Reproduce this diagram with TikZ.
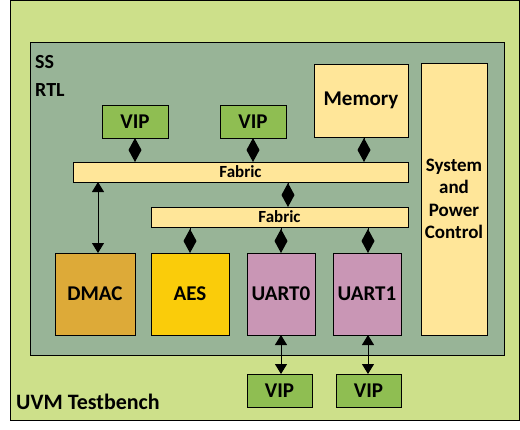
\documentclass[tikz,border=0pt]{standalone}
\usepackage{fontspec}
\setmainfont{Carlito}
\usetikzlibrary{arrows.meta}
\definecolor{outerc}{RGB}{205,224,138}
\definecolor{innerc}{RGB}{152,180,151}
\definecolor{vipc}{RGB}{143,190,82}
\definecolor{yel}{RGB}{255,230,153}
\definecolor{dmacc}{RGB}{221,170,56}
\definecolor{aesc}{RGB}{250,204,10}
\definecolor{uartc}{RGB}{201,150,181}
\tikzset{
  box/.style={draw=black, line width=1pt, inner sep=0pt, outer sep=0pt, anchor=north west, font=\bfseries\fontsize{21}{24}\selectfont, align=center},
  vipbox/.style={box, fill=vipc, minimum width=66pt, minimum height=33pt},
  fabbox/.style={box, fill=yel, minimum height=20pt, font=\bfseries\fontsize{17}{20}\selectfont},
  blockbox/.style={box, minimum width=80pt, minimum height=82pt},
  dconn/.style={line width=1pt, -{Diamond[length=24pt,width=13pt]}},
  tconn/.style={line width=1pt, {Triangle[length=10pt,width=12pt]}-{Triangle[length=10pt,width=12pt]}},
  lbl/.style={anchor=west, inner sep=0pt, font=\bfseries\fontsize{20}{24}\selectfont}
}
\begin{document}
\begin{tikzpicture}[x=1pt,y=-1pt]
\useasboundingbox (0,0) rectangle (520,429);
\node[box, fill=outerc, minimum width=509pt, minimum height=420pt] (tb) at (10,0) {};
\node[box, fill=innerc, minimum width=474pt, minimum height=313pt] (ss) at (30,42) {};
\node[lbl] (sslbl) at (35,62) {SS};
\node[lbl] (rtllbl) at (35,90) {RTL};
\node[lbl, font=\bfseries\fontsize{22}{24}\selectfont] (tblbl) at (16,402) {UVM Testbench};

\node[vipbox] (vip1) at (102,105) {VIP};
\node[vipbox] (vip2) at (220,105) {VIP};
\node[box, fill=yel, minimum width=94pt, minimum height=73pt] (mem) at (314,64) {Memory};
\node[box, fill=yel, minimum width=66pt, minimum height=272pt, font=\bfseries\fontsize{19}{22.5}\selectfont] (spc) at (421,63) {System\\and\\Power\\Control};
\node[fabbox, minimum width=335pt] (fab1) at (73,162) {Fabric};
\node[fabbox, minimum width=257pt] (fab2) at (151,207) {Fabric};
\node[blockbox, fill=dmacc] (dmac) at (55,253) {DMAC};
\node[blockbox, fill=aesc, minimum width=78pt] (aes) at (151,253) {AES};
\node[blockbox, fill=uartc, minimum width=68pt] (uart0) at (247,253) {UART0};
\node[blockbox, fill=uartc, minimum width=68pt] (uart1) at (333,253) {UART1};
\node[vipbox, minimum width=65pt] (vip3) at (247,374) {VIP};
\node[vipbox, minimum width=65pt] (vip4) at (336,374) {VIP};

\draw[dconn] (vip1.south) -- (vip1.south |- fab1.north);
\draw[dconn] (vip2.south) -- (vip2.south |- fab1.north);
\draw[dconn] ([xshift=3pt]mem.south) -- ([xshift=3pt]mem.south |- fab1.north);
\draw[dconn] ([xshift=8.5pt]fab2.north |- fab1.south) -- ([xshift=8.5pt]fab2.north);
\draw[dconn] (aes.north |- fab2.south) -- (aes.north);
\draw[dconn] (uart0.north |- fab2.south) -- (uart0.north);
\draw[dconn] ([xshift=1pt]uart1.north |- fab2.south) -- ([xshift=1pt]uart1.north);
\draw[tconn] ([xshift=3pt]dmac.north |- fab1.south) -- ([xshift=3pt]dmac.north);
\draw[tconn] (uart0.south) -- (uart0.south |- vip3.north);
\draw[tconn] ([xshift=1pt]uart1.south) -- ([xshift=1pt]uart1.south |- vip4.north);
\end{tikzpicture}
\end{document}
